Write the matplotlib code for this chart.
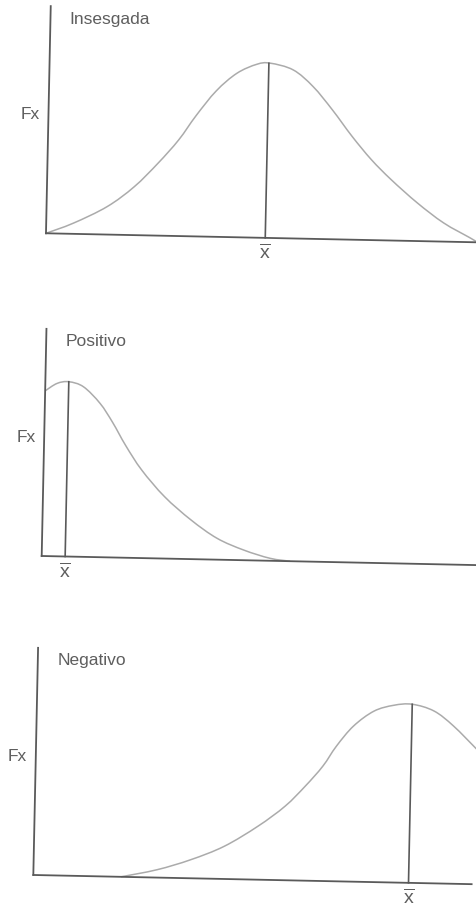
import numpy as np
import matplotlib
matplotlib.use("Agg")
import matplotlib.pyplot as plt
from matplotlib.path import Path
from matplotlib.patches import PathPatch
from matplotlib.transforms import Affine2D

plt.rcParams["font.family"] = ["Liberation Sans", "DejaVu Sans"]
plt.rcParams["mathtext.fontset"] = "custom"
plt.rcParams["mathtext.rm"] = "Liberation Sans"
plt.rcParams["mathtext.it"] = "Liberation Sans"

# relative density (peak of the symmetric curve = 1), x in axis units 0..10
sym_x = [0, 0.63, 1.41, 2.03, 2.57, 3.04, 3.43, 3.89, 4.36, 4.82, 5.13,
         5.67, 6.14, 6.60, 7.07, 7.53, 8.0, 8.62, 9.24, 9.86, 10.0]
sym_y = [0, 0.061, 0.160, 0.277, 0.414, 0.550, 0.690, 0.835, 0.938, 0.992, 1.0,
         0.964, 0.871, 0.740, 0.591, 0.460, 0.348, 0.218, 0.107, 0.025, 0.005]
sym_mean = 5.1

pos_x = [0, 0.27, 0.54, 0.88, 1.27, 1.57, 1.88, 2.26, 2.80, 3.42, 4.03,
         4.65, 5.26, 5.72]
pos_y = [0.945, 0.989, 1.0, 0.973, 0.880, 0.772, 0.642, 0.504, 0.354, 0.224,
         0.122, 0.058, 0.014, 0.0]
pos_mean = 0.54

neg_x = [2.0, 2.82, 3.58, 4.34, 5.10, 5.71, 6.16, 6.55, 6.85, 7.23, 7.69,
         8.14, 8.56, 9.06, 9.51, 10.05]
neg_y = [0, 0.045, 0.106, 0.187, 0.306, 0.424, 0.541, 0.657, 0.773, 0.890,
         0.978, 1.014, 1.022, 0.986, 0.903, 0.773]
neg_mean = 8.56

titles = ["Insesgada", "Positivo", "Negativo"]
ylabel = "Fx"
mean_label = r"$\overline{\mathrm{x}}$"

AXIS_COLOR = "#5a5a5a"
CURVE_COLOR = "#ababab"
TEXT_COLOR = "#5e5e5e"
XMAX, YMAX = 10, 1.30
TILT = -1.2  # the page is slightly skewed

fig = plt.figure(figsize=(4.76, 9.07), dpi=100)


def smooth_path(x, y):
    """Bezier path through the points (Catmull-Rom tangents)."""
    p = np.column_stack([x, y]).astype(float)
    ext = np.vstack([p[0], p, p[-1]])
    verts = [p[0]]
    codes = [Path.MOVETO]
    for i in range(1, len(ext) - 2):
        c1 = ext[i] + (ext[i + 1] - ext[i - 1]) / 6
        c2 = ext[i + 1] - (ext[i + 2] - ext[i]) / 6
        verts += [c1, c2, ext[i + 1]]
        codes += [Path.CURVE4] * 3
    return Path(verts, codes)


def draw_panel(rect, title, x, y, mean):
    ax = fig.add_axes(rect)
    ax.set_xlim(0, XMAX)
    ax.set_ylim(0, YMAX)
    ax.set_axis_off()

    ox, oy = ax.transData.transform((0, 0))
    tr = ax.transData + Affine2D().rotate_deg_around(ox, oy, TILT)

    # axes drawn by hand
    ax.plot([0, XMAX], [0, 0], color=AXIS_COLOR, lw=1.3, transform=tr, clip_on=False)
    ax.plot([0, 0], [0, YMAX], color=AXIS_COLOR, lw=1.3, transform=tr, clip_on=False)

    curve = PathPatch(smooth_path(x, y), fill=False, edgecolor=CURVE_COLOR,
                      lw=1.1, transform=tr, clip_on=False)
    ax.add_patch(curve)

    top = np.interp(mean, x, y)
    ax.plot([mean, mean], [0, top], color=AXIS_COLOR, lw=1.2, transform=tr,
            clip_on=False)

    ax.text(mean, -0.03, mean_label, transform=tr, ha="center", va="top",
            fontsize=14, color=TEXT_COLOR)
    ax.text(0.55, 1.20, title, ha="left", va="baseline", fontsize=12.5,
            color=TEXT_COLOR)
    ax.text(-0.36, 0.68, ylabel, ha="center", va="center", fontsize=12.5,
            color=TEXT_COLOR)
    return ax


draw_panel([0.0966, 0.7428, 0.9034, 0.2505], titles[0], sym_x, sym_y, sym_mean)
draw_panel([0.0876, 0.3870, 0.9124, 0.2505], titles[1], pos_x, pos_y, pos_mean)
draw_panel([0.0700, 0.0353, 0.9210, 0.2505], titles[2], neg_x, neg_y, neg_mean)

fig.savefig("out.png", dpi=100, facecolor="white")
